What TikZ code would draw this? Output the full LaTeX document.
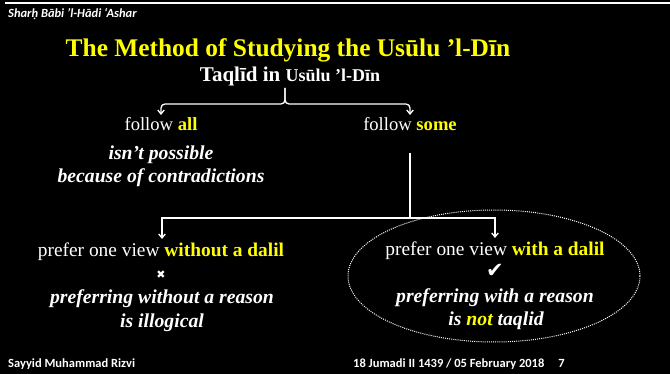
\documentclass[tikz,border=0pt]{standalone}
\usepackage{fontspec}
\setmainfont{Liberation Serif}
\newfontfamily\hdrfont{Carlito}
\newfontfamily\symfont{DejaVu Sans}
\usetikzlibrary{arrows.meta,shapes.geometric}
\definecolor{ylw}{RGB}{255,255,0}
\begin{document}
\begin{tikzpicture}[x=1pt,y=-1pt,
  txt/.style={text=white, inner sep=0pt, anchor=base},
  itl/.style={txt, font=\bfseries\itshape\fontsize{19.7}{23}\selectfont},
  mid/.style={txt, font=\fontsize{19.4}{23}\selectfont},
  foot/.style={txt, anchor=base west, font=\hdrfont\bfseries\fontsize{12.5}{14}\selectfont},
  conn/.style={draw=white, line width=1.3pt},
  arr/.style={conn, -{Straight Barb[length=4pt,width=6.5pt]}},
  hl/.style={text=ylw, font=\bfseries}]
\fill[black] (0,0) rectangle (670,374);
\useasboundingbox (0,0) rectangle (670,374);
% top rule
\coordinate (rl0) at (5,3);
\coordinate (rl1) at (670,3);
\draw[white, line width=1.6pt] (rl0) -- (rl1);
\node[foot, font=\hdrfont\bfseries\itshape\fontsize{12.5}{14}\selectfont] (hdr) at (8,18) {Sharḥ Bābi ’l-Hādi ‘Ashar};
% title
\node[txt, text=ylw, font=\bfseries\fontsize{25.4}{30}\selectfont] (title) at (288,57) {The Method of Studying the Usūlu ’l-Dīn};
\node[txt, font=\bfseries\fontsize{21}{24}\selectfont] (sub) at (290,82) {Taqlīd in {\fontsize{18}{20}\selectfont Usūlu ’l-Dīn}};
% follow level
\node[txt, font=\fontsize{18.6}{22}\selectfont] (fa) at (161,131) {follow \textbf{\color{ylw}all}};
\node[txt, font=\fontsize{18.6}{22}\selectfont] (fs) at (410,131) {follow \textbf{\color{ylw}some}};
\coordinate (btip) at (285,88);
\coordinate (bl) at (161,104);
\coordinate (br) at (410,104);
\coordinate (fat) at (161,115);
\coordinate (fst) at (410,115);
\draw[arr, rounded corners=4pt] (btip) |- (bl) -- (fat);
\draw[arr, rounded corners=4pt] (btip) |- (br) -- (fst);
% isn't possible
\node[itl] (np1) at (161,160) {isn’t possible};
\node[itl] (np2) at (161,183) {because of contradictions};
% branch
\coordinate (v0) at (410,153);
\coordinate (j) at (410,218);
\coordinate (plt) at (162,239);
\coordinate (prt) at (495,238);
\draw[arr] (v0) -- (j) -| (plt);
\draw[arr] (j) -| (prt);
% left
\node[mid] (pl) at (161,257) {prefer one view {\bfseries\color{ylw}without a dalil}};
\node[txt, anchor=center, font=\symfont\fontsize{11}{12}\selectfont] (xm) at (161,275) {✖};
\node[itl] (pl1) at (162,304) {preferring without a reason};
\node[itl] (pl2) at (162,327) {is illogical};
% right
\node[draw=white, line width=1pt, dash pattern=on 1pt off 1.1pt, ellipse, minimum width=292pt, minimum height=132pt, inner sep=0pt] (ell) at (494,276) {};
\node[mid] (pr) at (495,256) {prefer one view {\bfseries\color{ylw}with a dalil}};
\node[txt, anchor=center, font=\symfont\fontsize{21}{24}\selectfont] (ck) at (495,271) {✔};
\node[itl] (pr1) at (495,303) {preferring with a reason};
\node[itl] (pr2) at (496,326) {is {\color{ylw}not} taqlid};
% footer
\node[foot] (auth) at (8,367) {Sayyid Muhammad Rizvi};
\node[foot] (date) at (353,367) {18 Jumadi II 1439 / 05 February 2018\hspace{14pt}7};
\end{tikzpicture}
\end{document}
